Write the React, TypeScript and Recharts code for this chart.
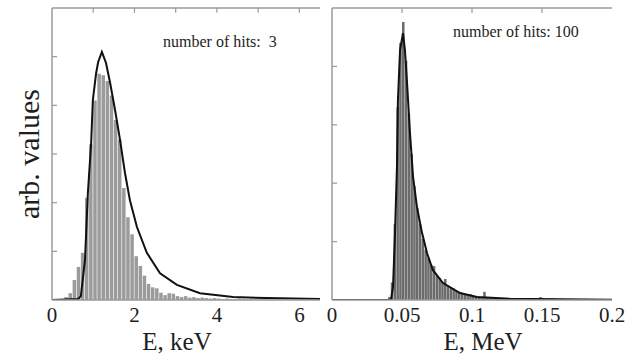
import { ComposedChart, Bar, Line, XAxis, YAxis, ReferenceLine } from 'recharts'

// left panel: 3 hits, E in keV (bin centres, 0.1 keV wide)
const keVBins = [
  0.05, 0.15, 0.25, 0.35, 0.45, 0.55, 0.65, 0.75, 0.85, 0.95,
  1.05, 1.15, 1.25, 1.35, 1.45, 1.55, 1.65, 1.75, 1.85, 1.95,
  2.05, 2.15, 2.25, 2.35, 2.45, 2.55, 2.65, 2.75, 2.85, 2.95,
  3.05, 3.15, 3.25, 3.35, 3.45, 3.55, 3.65, 3.75, 3.85, 3.95,
  4.05, 4.15, 4.25, 4.35, 4.45, 4.55, 4.65, 4.75, 4.85, 4.95,
  5.05, 5.15, 5.25, 5.35, 5.45, 5.55, 5.65, 5.75, 5.85, 5.95,
  6.05, 6.15, 6.25, 6.35, 6.45,
]
const keVCounts = [
  0, 0, 0.02, 0.06, 0.14, 0.41, 0.68, 0.97, 2.1, 3.2,
  4.1, 4.65, 4.62, 4.5, 4.2, 3.7, 3.3, 2.3, 1.7, 1.35,
  0.9, 0.7, 0.5, 0.33, 0.26, 0.24, 0.15, 0.1, 0.14, 0.13,
  0.08, 0.06, 0.08, 0.05, 0.06, 0.04, 0.05, 0.04, 0.03, 0.04,
  0.03, 0.02, 0.03, 0.02, 0.02, 0.03, 0.02, 0.01, 0.02, 0.01,
  0.01, 0.02, 0.01, 0.01, 0.01, 0.01, 0.01, 0, 0.01, 0,
  0.01, 0, 0, 0, 0,
]
const keVFitE = [0, 0.63, 0.7, 0.8, 0.87, 0.95, 0.99, 1.07, 1.12, 1.21, 1.31, 1.41, 1.53, 1.65, 1.77, 1.89, 2.06, 2.3, 2.62, 3.03, 3.59, 4.39, 5.21, 6.5]
const keVFitY = [0, 0.02, 0.08, 0.82, 2.2, 3.23, 4.1, 4.66, 4.89, 5.1, 4.87, 4.46, 3.9, 3.29, 2.61, 2.05, 1.5, 0.97, 0.55, 0.31, 0.14, 0.06, 0.04, 0.02]
const keVTicks = [0, 2, 4, 6]
const keVTopTicks = [1, 2, 3, 4, 5, 6]

// right panel: 100 hits, E in MeV (bin centres, 0.002 MeV wide)
const meVBins = [
  0.041, 0.043, 0.045, 0.047, 0.049, 0.051, 0.053, 0.055, 0.057, 0.059,
  0.061, 0.063, 0.065, 0.067, 0.069, 0.071, 0.073, 0.075, 0.077, 0.079,
  0.081, 0.083, 0.085, 0.087, 0.089, 0.091, 0.093, 0.095, 0.097, 0.099,
  0.101, 0.103, 0.105, 0.107, 0.109, 0.111, 0.113, 0.115, 0.117, 0.119,
  0.121, 0.123, 0.125, 0.127, 0.129, 0.131, 0.133, 0.135, 0.137, 0.139,
  0.141, 0.143, 0.145, 0.147, 0.149, 0.151, 0.153, 0.155, 0.157, 0.159,
  0.161, 0.163, 0.165, 0.167, 0.169, 0.171, 0.173, 0.175, 0.177, 0.179,
  0.181, 0.183, 0.185, 0.187, 0.189, 0.191, 0.193, 0.195, 0.197, 0.199,
]
const meVCounts = [
  0.05, 0.3, 1.3, 3.3, 4.4, 4.76, 4.1, 3.2, 2.5, 1.95,
  1.58, 1.3, 1.05, 0.86, 0.72, 0.6, 0.58, 0.42, 0.38, 0.31,
  0.36, 0.25, 0.22, 0.2, 0.16, 0.14, 0.12, 0.1, 0.09, 0.1,
  0.07, 0.06, 0.06, 0.05, 0.14, 0.04, 0.04, 0.03, 0.03, 0.04,
  0.02, 0.02, 0.03, 0.02, 0.02, 0.01, 0.02, 0.01, 0.02, 0.01,
  0.01, 0.02, 0.01, 0.01, 0.05, 0.01, 0.01, 0.01, 0.03, 0.01,
  0.01, 0.01, 0, 0.01, 0.01, 0, 0.01, 0, 0.01, 0,
  0, 0.01, 0, 0, 0, 0, 0, 0, 0, 0,
]
const meVFitE = [0, 0.0421, 0.0436, 0.045, 0.0464, 0.0471, 0.0486, 0.0507, 0.0521, 0.0536, 0.0557, 0.0579, 0.0607, 0.0643, 0.0679, 0.0721, 0.0793, 0.0914, 0.1036, 0.127, 0.2]
const meVFitY = [0, 0, 0.22, 1.15, 2.28, 3.42, 4.28, 4.57, 4.28, 3.72, 2.86, 2.11, 1.59, 1.15, 0.8, 0.51, 0.29, 0.12, 0.05, 0.02, 0.005]
const meVTicks = [0, 0.05, 0.1, 0.15, 0.2]
const meVTopTicks = [0.05, 0.1, 0.15]

const leftHist = keVBins.map((e, i) => ({ e, hist: keVCounts[i] }))
const leftFit = keVFitE.map((e, i) => ({ e, fit: keVFitY[i] }))
const rightHist = meVBins.map((e, i) => ({ e, hist: meVCounts[i] }))
const rightFit = meVFitE.map((e, i) => ({ e, fit: meVFitY[i] }))

const serif = '"Liberation Serif", "Times New Roman", serif'
const frameColor = '#9a9a9a'
const frame = { stroke: frameColor, strokeWidth: 1.5 }
const tickStroke = { stroke: frameColor, strokeWidth: 1.2 }
const ink = '#1e1e1e'
const tickFont = { fontSize: 21, fill: ink, fontFamily: serif }

// tick marks only, no text
const NoLabel = () => <g />

// bars on the bottom/left axes, fitted curve on the right axis (same range);
// top edge of the box is a reference line with short inward ticks
function Panel({ hist, fit, domain, ticks, topTicks, yMax, yTicks, tickLen, barColor, barSize, title, titleDx, yLabel, width, margin, leftWidth }: any) {
  return (
    <ComposedChart width={width} height={359} data={hist} margin={margin}>
      <XAxis xAxisId="b" dataKey="e" type="number" domain={domain} ticks={ticks} allowDataOverflow
        tickLine={false} axisLine={frame} tick={tickFont} tickSize={0} tickMargin={7} height={59}
        label={{ value: title, position: 'insideBottom', offset: 9, fontSize: 25, fill: ink, fontFamily: serif, dx: titleDx }} />
      <XAxis xAxisId="t" dataKey="e" orientation="top" type="number" domain={domain} allowDataOverflow hide />
      <YAxis yAxisId="l" type="number" domain={[0, yMax]} ticks={yTicks} allowDataOverflow
        tick={NoLabel} tickSize={-5} tickLine={tickStroke} axisLine={frame} width={leftWidth}
        label={yLabel ? { value: yLabel, angle: -90, position: 'center', fontSize: 30, fill: ink, fontFamily: serif } : undefined} />
      <YAxis yAxisId="r" orientation="right" type="number" domain={[0, yMax]} ticks={yTicks} allowDataOverflow
        tick={NoLabel} tickSize={-5} tickLine={tickStroke} axisLine={frame} width={0} />
      <Bar xAxisId="b" yAxisId="l" dataKey="hist" fill={barColor} barSize={barSize} isAnimationActive={false} />
      <Line xAxisId="t" yAxisId="r" data={fit} dataKey="fit" type="linear" stroke="#111" strokeWidth={2}
        dot={false} isAnimationActive={false} />
      <ReferenceLine xAxisId="b" yAxisId="l" y={yMax} ifOverflow="visible" stroke={frameColor} strokeWidth={1.5} />
      {topTicks.map((t: number) => (
        <ReferenceLine key={t} xAxisId="b" yAxisId="l" ifOverflow="visible" stroke={frameColor} strokeWidth={1.2}
          segment={[{ x: t, y: yMax }, { x: t, y: yMax - tickLen }]} />
      ))}
    </ComposedChart>
  )
}

export default function App() {
  return (
    <div style={{ position: 'absolute', left: 0, top: 0, width: 628, height: 359, background: '#fff', fontFamily: serif, color: ink }}>
      <div style={{ position: 'absolute', left: 0, top: 0 }}>
        <Panel hist={leftHist} fit={leftFit} domain={[0, 6.5]} ticks={keVTicks} topTicks={keVTopTicks}
          yMax={6} yTicks={[1, 2, 3, 4, 5]} tickLen={0.1} barColor="#9b9b9b" barSize={3.5}
          title="E, keV" titleDx={-9} yLabel="arb. values" width={322}
          margin={{ top: 8, right: 2, bottom: 0, left: 4 }} leftWidth={48} />
      </div>
      <div style={{ position: 'absolute', left: 322, top: 0 }}>
        <Panel hist={rightHist} fit={rightFit} domain={[0, 0.2]} ticks={meVTicks} topTicks={meVTopTicks}
          yMax={5} yTicks={[1, 2, 3, 4]} tickLen={0.085} barColor="#6b6b6b" barSize={3.6}
          title="E, MeV" titleDx={11} width={306}
          margin={{ top: 8, right: 16, bottom: 0, left: 0 }} leftWidth={10} />
      </div>
      <div style={{ position: 'absolute', left: 163, top: 33, fontSize: 16, whiteSpace: 'pre' }}>number of hits:  3</div>
      <div style={{ position: 'absolute', left: 453, top: 23, fontSize: 16, whiteSpace: 'pre' }}>number of hits: 100</div>
    </div>
  )
}
